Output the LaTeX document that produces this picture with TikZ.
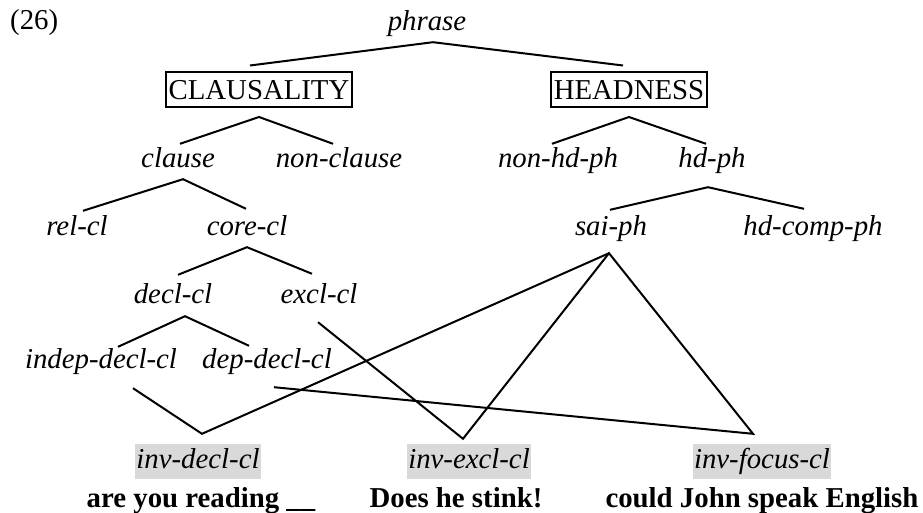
\documentclass[tikz,border=0pt]{standalone}
\usepackage{fontspec}
\setmainfont{Liberation Serif}
\definecolor{grigio}{gray}{0.85}
\tikzset{
  tipo/.style={font=\fontsize{28.8}{32}\selectfont\itshape, anchor=base,
    text height=20pt, text depth=7pt, inner ysep=4pt, inner xsep=1.5pt},
  dimensione/.style={font=\fontsize{28.8}{32}\selectfont, anchor=base, draw,
    line width=2pt, text height=20pt, text depth=0pt, inner ysep=7.5pt, inner xsep=3pt},
  inverso/.style={tipo, fill=grigio},
  frase/.style={font=\fontsize{28.8}{32}\selectfont\bfseries, anchor=base, inner sep=0pt},
  ramo/.style={line width=2pt}
}
\begin{document}
\begin{tikzpicture}[x=1pt,y=-1pt]
        \useasboundingbox (0,0) rectangle (923,513);
        % Numero
        \node [font=\fontsize{28.8}{32}\selectfont, anchor=base west, inner sep=0pt] (num) at (10,30) {(26)};
        % Tipi
        \node [tipo] (phrase) at (427,31) {phrase};
        \node [dimensione] (claus) at (259,100) {CLAUSALITY};
        \node [dimensione] (head) at (629,100) {HEADNESS};
        \node [tipo] (clause) at (178,168) {clause};
        \node [tipo] (nonclause) at (339,168) {non-clause};
        \node [tipo] (nonhd) at (558,168) {non-hd-ph};
        \node [tipo] (hd) at (712,168) {hd-ph};
        \node [tipo] (rel) at (77,235) {rel-cl};
        \node [tipo] (core) at (247,235) {core-cl};
        \node [tipo] (sai) at (611,235) {sai-ph};
        \node [tipo] (hdcomp) at (813,235) {hd-comp-ph};
        \node [tipo] (decl) at (173,303) {decl-cl};
        \node [tipo] (excl) at (319,303) {excl-cl};
        \node [tipo] (indep) at (101,368) {indep-decl-cl};
        \node [tipo] (dep) at (267,368) {dep-decl-cl};
        % Foglie
        \node [inverso] (invdecl) at (198,468) {inv-decl-cl};
        \node [inverso] (invexcl) at (469,468) {inv-excl-cl};
        \node [inverso] (invfocus) at (762,468) {inv-focus-cl};
        \node [frase] (es1) at (201,507) {are you reading \_\_};
        \node [frase] (es2) at (456,507) {Does he stink!};
        \node [frase] (es3) at (762,507) {could John speak English};
        % Punti di incontro
        \coordinate (pSai) at ([xshift=-2pt,yshift=-7pt]sai.south);
        \coordinate (pDecl) at ([xshift=4pt,yshift=10pt]invdecl.north);
        \coordinate (pExcl) at ([xshift=-6pt,yshift=5pt]invexcl.north);
        \coordinate (pFocus) at ([xshift=-9pt,yshift=10pt]invfocus.north);
        % Rami
        \draw [ramo] ([xshift=-9pt,yshift=6pt]claus.north) -- ([xshift=6pt]phrase.south) -- ([xshift=-6pt,yshift=6pt]head.north);
        \draw [ramo] ([xshift=2pt]clause.north) -- ([yshift=-8.5pt]claus.south) -- ([xshift=-6pt]nonclause.north);
        \draw [ramo] ([xshift=-6pt]nonhd.north) -- ([yshift=-8.5pt]head.south) -- ([xshift=-6pt]hd.north);
        \draw [ramo] ([xshift=6pt]rel.north) -- ([xshift=5pt]clause.south) -- ([xshift=-1pt,yshift=2pt]core.north);
        \draw [ramo] ([xshift=-1pt,yshift=1pt]sai.north) -- ([xshift=-4pt,yshift=-8pt]hd.south) -- ([xshift=-9pt,yshift=2pt]hdcomp.north);
        \draw [ramo] ([xshift=5pt,yshift=4pt]decl.north) -- ([yshift=-1pt]core.south) -- ([xshift=-7pt,yshift=5pt]excl.north);
        \draw [ramo] ([xshift=17pt,yshift=-3pt]indep.north) -- ([xshift=12pt,yshift=-2pt]decl.south) -- ([xshift=-18pt,yshift=-2pt]dep.north);
        % Incroci
        \draw [ramo] ([xshift=32pt,yshift=-9pt]indep.south) -- (pDecl) -- (pSai);
        \draw [ramo] ([xshift=7pt,yshift=-8pt]dep.south) -- (pFocus) -- (pSai) -- (pExcl) -- ([xshift=-1pt,yshift=-8pt]excl.south);
\end{tikzpicture}
\end{document}
